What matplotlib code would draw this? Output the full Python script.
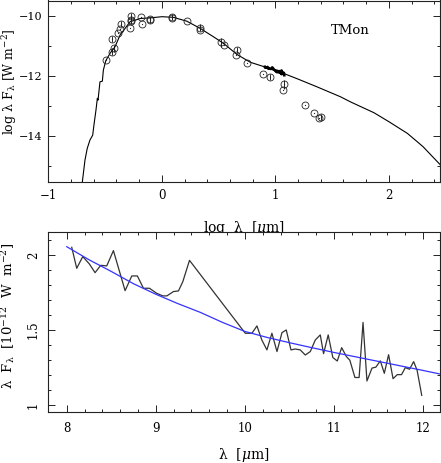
import numpy as np
import matplotlib
matplotlib.use("Agg")
import matplotlib.pyplot as plt

plt.rcParams['font.family'] = ['DejaVu Serif']
plt.rcParams['mathtext.fontset'] = 'dejavuserif'

# ---------------- Top panel: SED model ----------------
model_logl = [-0.700, -0.677, -0.657, -0.633, -0.609, -0.598, -0.580, -0.568, -0.562,
              -0.545, -0.524, -0.515, -0.494, -0.456, -0.412, -0.368, -0.324, -0.280,
              -0.190, -0.103, 0.000, 0.100, 0.220, 0.338, 0.455, 0.544, 0.662, 0.780,
              0.903, 0.954, 1.000, 1.041, 1.079, 1.200, 1.368, 1.574, 1.662, 1.868,
              2.000, 2.163, 2.300, 2.456]
model_logf = [-15.52, -14.80, -14.41, -14.13, -13.97, -13.63, -13.13, -12.74, -12.80,
              -12.19, -12.17, -11.80, -11.49, -11.24, -11.02, -10.63, -10.41, -10.19,
              -10.08, -10.06, -10.02, -10.04, -10.17, -10.41, -10.69, -10.91, -11.28, -11.54,
              -11.69, -11.76, -11.83, -11.87, -11.92, -12.10, -12.36, -12.69, -12.86, -13.22,
              -13.52, -13.91, -14.35, -14.97]

# photometry
phot_logl = [-0.491, -0.436, -0.436, -0.418, -0.383, -0.368, -0.359, -0.271, -0.271,
             -0.280, -0.268, -0.185, -0.171, -0.100, -0.100, 0.091, 0.091, 0.220,
             0.332, 0.338, 0.520, 0.550, 0.653, 0.665, 0.753, 0.891, 0.956, 1.065,
             1.073, 1.259, 1.338, 1.382, 1.403]
phot_logf = [-11.47, -10.78, -11.19, -11.08, -10.56, -10.44, -10.27, -10.00, -10.13,
             -10.41, -10.16, -10.04, -10.28, -10.13, -10.10, -10.02, -10.06, -10.17,
             -10.39, -10.46, -10.88, -10.96, -11.30, -11.13, -11.58, -11.93, -12.04, -12.47,
             -12.28, -12.96, -13.24, -13.41, -13.36]
phot_err = [0.0, 0.10, 0.12, 0.12, 0.0, 0.0, 0.10, 0.10, 0.0,
            0.0, 0.10, 0.0, 0.0, 0.10, 0.0, 0.10, 0.0, 0.0,
            0.12, 0.0, 0.14, 0.0, 0.0, 0.10, 0.0, 0.0, 0.10, 0.0,
            0.14, 0.0, 0.0, 0.0, 0.10]

# ---------------- Bottom panel: mid-IR spectrum ----------------
spec_lam = [8.056, 8.112, 8.180, 8.254, 8.318, 8.382, 8.449, 8.524, 8.655, 8.730,
            8.793, 8.861, 8.928, 9.011, 9.079, 9.124, 9.198, 9.254, 9.303, 9.378,
            10.004, 10.079, 10.135, 10.190, 10.247, 10.303, 10.360, 10.416, 10.464,
            10.517, 10.565, 10.621, 10.678, 10.734, 10.790, 10.846, 10.883, 10.935,
            10.987, 11.037, 11.086, 11.140, 11.178, 11.235, 11.282, 11.326, 11.370,
            11.427, 11.470, 11.520, 11.565, 11.613, 11.663, 11.710, 11.758, 11.801,
            11.848, 11.894, 11.933, 11.985]
spec_flux = [2.051, 1.911, 1.989, 1.940, 1.882, 1.931, 1.927, 2.029, 1.762, 1.860,
             1.860, 1.778, 1.778, 1.744, 1.727, 1.727, 1.756, 1.760, 1.822, 1.964,
             1.478, 1.478, 1.527, 1.433, 1.367, 1.478, 1.356, 1.482, 1.500,
             1.367, 1.373, 1.367, 1.333, 1.356, 1.433, 1.467, 1.342, 1.467,
             1.316, 1.293, 1.382, 1.322, 1.298, 1.183, 1.183, 1.550, 1.160,
             1.246, 1.252, 1.294, 1.211, 1.335, 1.175, 1.202, 1.202, 1.249,
             1.238, 1.289, 1.231, 1.064]

fit_lam = [8.0, 8.25, 8.5, 8.75, 9.0, 9.25, 9.5, 9.75, 10.0, 10.25, 10.5, 10.75,
           11.0, 11.25, 11.5, 11.75, 12.0, 12.2]
fit_flux = [2.055, 1.968, 1.890, 1.808, 1.738, 1.675, 1.617, 1.550, 1.490, 1.450, 1.415, 1.382,
            1.350, 1.320, 1.290, 1.260, 1.230, 1.205]

W, H = 441, 463
fig = plt.figure(figsize=(W / 100, H / 100), dpi=100)

def px_axes(l, t, r, b):
    return fig.add_axes([l / W, 1 - b / H, (r - l) / W, (b - t) / H])

def style(ax):
    for s in ax.spines.values():
        s.set_linewidth(0.8)
        s.set_color('#222222')
    ax.tick_params(which='both', direction='in', top=True, right=True,
                   width=0.7, color='#222222')
    ax.tick_params(which='major', length=5)
    ax.tick_params(which='minor', length=2.5)

# top panel
ax1 = px_axes(48.3, 0.5, 440, 181.7)
style(ax1)
ax1.plot(model_logl, model_logf, color='k', lw=0.8)
sl = np.log10(spec_lam)
sf = np.log10(np.array(spec_flux) * 1e-12)
ax1.plot(sl, sf, color='k', lw=1.8)
pe = np.array(phot_err)
m = pe > 0
ax1.errorbar(np.array(phot_logl)[m], np.array(phot_logf)[m], yerr=pe[m],
             fmt='none', ecolor='k', elinewidth=0.6, capsize=0)
ax1.plot(phot_logl, phot_logf, 'o', mfc='none', mec='#222222', ms=5.0, mew=0.6)
ax1.plot(phot_logl, phot_logf, 'o', color='#222222', ms=0.9, mew=0)
ax1.set_xlim(-1.0, 2.45)
ax1.set_ylim(-15.52, -9.48)
ax1.set_xticks([-1, 0, 1, 2])
ax1.set_xticks(np.arange(-1, 2.45, 0.2), minor=True)
ax1.set_yticks([-14, -12, -10])
ax1.set_yticks(np.arange(-15, -9.4, 1.0), minor=True)
ax1.set_xticklabels(['\u22121', '0', '1', '2'])
ax1.set_yticklabels(['\u221214', '\u221212', '\u221210'])
ax1.tick_params(axis='x', labelsize=8.5, pad=5)
ax1.tick_params(axis='y', labelsize=8, pad=4.5)
ax1.text(1.486, -10.49, 'TMon', fontsize=9.5, ha='left', va='center')
ax1.set_ylabel(r'log λ F$_{\rm λ}$ [W m$^{-2}$]', fontsize=9)
ax1.yaxis.set_label_coords(-0.074, 0.55)
ax1.set_xlabel(r'log  λ  [$\mu$m]', fontsize=10)
ax1.xaxis.set_label_coords(0.5, -0.208)

# bottom panel
ax2 = px_axes(48.3, 232, 440, 412)
ax2.set_facecolor('white')
ax2.set_zorder(5)
style(ax2)
ax2.plot(spec_lam, spec_flux, color='#333333', lw=0.9)
ax2.plot(fit_lam, fit_flux, color='#3333ff', lw=0.9)
ax2.set_xlim(7.793, 12.19)
ax2.set_ylim(0.953, 2.153)
ax2.set_xticks([8, 9, 10, 11, 12])
ax2.set_xticks(np.arange(8, 12.2, 0.2), minor=True)
ax2.set_yticks([1, 1.5, 2])
ax2.set_yticks(np.arange(1.0, 2.15, 0.1), minor=True)
ax2.set_yticklabels(['1', '1.5', '2'], rotation=90, va='center')
ax2.tick_params(axis='x', labelsize=8.5, pad=7)
ax2.tick_params(axis='y', labelsize=8.5, pad=6)
ax2.set_ylabel(r'λ  F$_{\rm λ}$  [10$^{-12}$  W  m$^{-2}$]', fontsize=9.5)
ax2.yaxis.set_label_coords(-0.08, 0.536)
ax2.set_xlabel(r'λ  [$\mu$m]', fontsize=10)
ax2.xaxis.set_label_coords(0.5, -0.19)

fig.savefig('out.png', dpi=100)
